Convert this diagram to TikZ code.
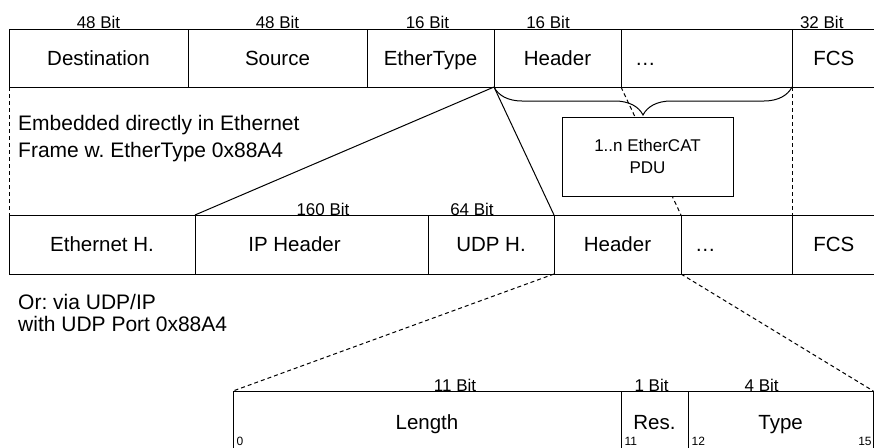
\documentclass[tikz,border=0pt]{standalone}
\usepackage{fontspec}
\setmainfont{Liberation Sans}
\usetikzlibrary{positioning,decorations.pathreplacing}
\frenchspacing
\tikzset{
  field/.style={draw, line width=1pt, outer sep=0pt, inner sep=0pt, minimum width=#1,
                text height=14.5pt, text depth=0pt, font=\fontsize{20.5}{24}\selectfont},
  bitlbl/.style={inner sep=0pt, text depth=0pt, font=\fontsize{17}{20}\selectfont},
  bitnum/.style={inner sep=0pt, anchor=base west, font=\fontsize{12}{14}\selectfont},
  note/.style={align=left, inner sep=0pt, anchor=north west},
  sep/.style={line width=1pt, dash pattern=on 4pt off 3pt},
}

\begin{document}
\begin{tikzpicture}[x=1pt, y=-1pt]
  \useasboundingbox (0,0) rectangle (874,447);
  % Ethernet frame
  \node[field=179, minimum height=58, anchor=north west] (dst) at (9,29) {Destination};
  \node[field=179, minimum height=58, right=0pt of dst] (src) {Source};
  \node[field=127, minimum height=58, right=0pt of src] (etype) {EtherType};
  \node[field=127, minimum height=58, right=0pt of etype] (hdr) {Header};
  \node[field=171, minimum height=58, text width=143, align=left, right=0pt of hdr] (dots) {…};
  \node[field=83.5, minimum height=58, right=0pt of dots] (fcs) {FCS};
  \node[bitlbl, above=0.5pt of dst.north] {48 Bit};
  \node[bitlbl, above=0.5pt of src.north] {48 Bit};
  \node[bitlbl, above=0.5pt of etype.north, xshift=-3pt] {16 Bit};
  \node[bitlbl, above=0.5pt of hdr.north, xshift=-9.5pt] {16 Bit};
  \node[bitlbl, above=0.5pt of fcs.north, xshift=-12pt] {32 Bit};

  % UDP/IP frame
  \node[field=186, minimum height=59, anchor=north west] (eth) at (9,215) {Ethernet H.};
  \node[field=233, minimum height=59, right=0pt of eth] (ip) {\hspace*{-34pt}IP Header};
  \node[field=126, minimum height=59, right=0pt of ip] (udp) {UDP H.};
  \node[field=127, minimum height=59, right=0pt of udp] (uhdr) {Header};
  \node[field=111, minimum height=59, text width=83, align=left, right=0pt of uhdr] (udots) {…};
  \node[field=83.5, minimum height=59, right=0pt of udots] (ufcs) {FCS};
  \node[bitlbl, above=-0.5pt of ip.north, xshift=11.5pt] {160 Bit};
  \node[bitlbl, above=-0.5pt of udp.north, xshift=-19pt] {64 Bit};

  % EtherCAT header
  \node[field=388, minimum height=62, anchor=north west] (len) at (233,391) {Length};
  \node[field=67, minimum height=62, right=0pt of len] (res) {Res.};
  \node[field=185.3, minimum height=62, right=0pt of res] (typ) {Type};
  \node[bitlbl, above=-0.5pt of len.north, xshift=28pt] {11 Bit};
  \node[bitlbl, above=-0.5pt of res.north, xshift=-3pt] {1 Bit};
  \node[bitlbl, above=-0.5pt of typ.north, xshift=-19pt] {4 Bit};
  \node[bitnum] at ([xshift=3.5pt, yshift=8pt]len.south west) {0};
  \node[bitnum] at ([xshift=3.5pt, yshift=8pt]res.south west) {11};
  \node[bitnum] at ([xshift=3.5pt, yshift=8pt]typ.south west) {12};
  \node[bitnum, anchor=base east] at ([xshift=-1.5pt, yshift=8pt]typ.south east) {15};

  \node[note, font=\fontsize{21}{27}\selectfont] (direct) at (18,115)
    {Embedded directly in Ethernet\\Frame w. EtherType 0x88A4};
  \node[note, font=\fontsize{21}{22}\selectfont] (viaudp) at (18,294)
    {Or: via UDP/IP\\with UDP Port 0x88A4};

  \draw[line width=1pt] (hdr.south west) -- (ip.north west);
  \draw[line width=1pt] (hdr.south west) -- (uhdr.north west);
  \draw[sep] (dst.south west) -- (eth.north west);
  \draw[sep] (fcs.south west) -- (ufcs.north west);
  \draw[sep, gray!45] ([xshift=-1.5pt]fcs.south east) -- ([xshift=-1.5pt]ufcs.north east);
  \draw[sep] (dots.south west) -- (udots.north west);
  \draw[sep] (uhdr.south west) -- (len.north west);
  \draw[sep] (uhdr.south east) -- (typ.north east);

  \node[draw, fill=white, line width=1pt, minimum width=171, minimum height=79,
        align=center, font=\fontsize{17}{22}\selectfont] (pdu) at (647.5,156.5)
    {1..n EtherCAT\\PDU};
  \draw[line width=1pt, decorate, decoration={brace, amplitude=28pt}]
    (dots.south east) -- (hdr.south west);
\end{tikzpicture}
\end{document}
